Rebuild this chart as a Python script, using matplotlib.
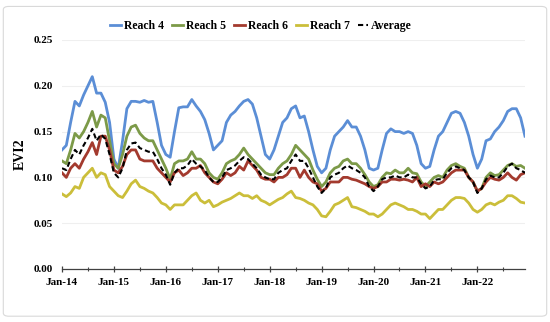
import matplotlib
matplotlib.use("Agg")
import matplotlib.pyplot as plt
from matplotlib.patches import FancyBboxPatch
import numpy as np

years = ["14", "15", "16", "17", "18", "19", "20", "21", "22"]
tick_labels = ["Jan-" + y for y in years]

reach4 = [
    0.130, 0.135, 0.160, 0.183, 0.178, 0.190, 0.200, 0.210, 0.192, 0.192, 0.182, 0.160,
    0.120, 0.110, 0.140, 0.175, 0.183, 0.183, 0.182, 0.184, 0.182, 0.183, 0.160, 0.135,
    0.125, 0.122, 0.150, 0.176, 0.177, 0.177, 0.185, 0.178, 0.172, 0.163, 0.148, 0.130,
    0.135, 0.140, 0.160, 0.168, 0.172, 0.178, 0.183, 0.185, 0.180, 0.165, 0.145, 0.125,
    0.120, 0.130, 0.145, 0.160, 0.165, 0.175, 0.178, 0.165, 0.167, 0.150, 0.130, 0.112,
    0.105, 0.110, 0.130, 0.145, 0.150, 0.155, 0.162, 0.155, 0.155, 0.145, 0.130, 0.110,
    0.108, 0.110, 0.130, 0.148, 0.153, 0.150, 0.150, 0.148, 0.150, 0.148, 0.135, 0.115,
    0.110, 0.112, 0.130, 0.145, 0.150, 0.160, 0.170, 0.172, 0.170, 0.160, 0.145, 0.125,
    0.110, 0.120, 0.140, 0.142, 0.150, 0.155, 0.162, 0.172, 0.175, 0.175, 0.165, 0.145,
]
reach5 = [
    0.118, 0.115, 0.130, 0.148, 0.143, 0.150, 0.160, 0.172, 0.155, 0.168, 0.165, 0.140,
    0.115, 0.110, 0.125, 0.145, 0.155, 0.157, 0.148, 0.143, 0.140, 0.140, 0.130, 0.120,
    0.110, 0.098, 0.115, 0.118, 0.118, 0.120, 0.128, 0.120, 0.120, 0.115, 0.105, 0.100,
    0.098, 0.105, 0.115, 0.118, 0.120, 0.125, 0.132, 0.125, 0.120, 0.115, 0.110, 0.105,
    0.103, 0.103, 0.110, 0.115, 0.118, 0.125, 0.135, 0.130, 0.125, 0.120, 0.108, 0.098,
    0.090, 0.095, 0.105, 0.110, 0.112, 0.118, 0.120, 0.115, 0.115, 0.110, 0.103, 0.095,
    0.090, 0.092, 0.100, 0.105, 0.104, 0.108, 0.105, 0.105, 0.110, 0.105, 0.104, 0.095,
    0.090, 0.095, 0.100, 0.102, 0.100, 0.108, 0.113, 0.115, 0.112, 0.110, 0.100, 0.095,
    0.085, 0.088, 0.100, 0.105, 0.102, 0.103, 0.108, 0.113, 0.115, 0.112, 0.113, 0.110,
]
reach6 = [
    0.105, 0.100, 0.110, 0.115, 0.110, 0.120, 0.128, 0.138, 0.125, 0.145, 0.145, 0.130,
    0.108, 0.105, 0.112, 0.125, 0.130, 0.130, 0.120, 0.118, 0.118, 0.118, 0.110, 0.105,
    0.100, 0.095, 0.105, 0.108, 0.102, 0.105, 0.110, 0.110, 0.113, 0.105, 0.100, 0.095,
    0.093, 0.098, 0.105, 0.102, 0.105, 0.112, 0.108, 0.118, 0.113, 0.108, 0.100, 0.098,
    0.098, 0.095, 0.100, 0.100, 0.103, 0.110, 0.110, 0.100, 0.108, 0.100, 0.095, 0.093,
    0.085, 0.088, 0.095, 0.095, 0.095, 0.100, 0.100, 0.098, 0.097, 0.095, 0.093, 0.090,
    0.088, 0.090, 0.095, 0.095, 0.098, 0.098, 0.097, 0.098, 0.097, 0.095, 0.100, 0.090,
    0.093, 0.090, 0.095, 0.093, 0.095, 0.100, 0.105, 0.108, 0.108, 0.108, 0.100, 0.095,
    0.085, 0.088, 0.095, 0.100, 0.098, 0.097, 0.100, 0.105, 0.100, 0.097, 0.103, 0.105,
]
reach7 = [
    0.082, 0.079, 0.083, 0.090, 0.088, 0.100, 0.105, 0.110, 0.100, 0.105, 0.103, 0.090,
    0.085, 0.080, 0.078, 0.085, 0.093, 0.097, 0.090, 0.088, 0.085, 0.083, 0.078, 0.072,
    0.070, 0.065, 0.070, 0.070, 0.070, 0.075, 0.080, 0.083, 0.075, 0.072, 0.075, 0.068,
    0.070, 0.073, 0.075, 0.077, 0.080, 0.083, 0.080, 0.080, 0.077, 0.080, 0.075, 0.073,
    0.070, 0.073, 0.076, 0.078, 0.082, 0.085, 0.078, 0.077, 0.075, 0.072, 0.070, 0.065,
    0.058, 0.057, 0.063, 0.070, 0.072, 0.075, 0.078, 0.068, 0.067, 0.065, 0.063, 0.060,
    0.060, 0.057, 0.060, 0.065, 0.070, 0.072, 0.070, 0.068, 0.065, 0.065, 0.063, 0.060,
    0.060, 0.055, 0.060, 0.065, 0.065, 0.070, 0.075, 0.078, 0.078, 0.077, 0.072, 0.065,
    0.062, 0.065, 0.070, 0.072, 0.070, 0.073, 0.075, 0.080, 0.080, 0.077, 0.073, 0.072,
]
average = [
    0.110, 0.108, 0.120, 0.130, 0.125, 0.135, 0.143, 0.153, 0.140, 0.147, 0.142, 0.125,
    0.105, 0.100, 0.110, 0.130, 0.137, 0.138, 0.132, 0.130, 0.128, 0.128, 0.120, 0.110,
    0.103, 0.092, 0.105, 0.110, 0.110, 0.113, 0.120, 0.115, 0.112, 0.108, 0.100, 0.095,
    0.095, 0.100, 0.108, 0.110, 0.113, 0.118, 0.122, 0.120, 0.115, 0.110, 0.103, 0.100,
    0.098, 0.098, 0.105, 0.108, 0.110, 0.118, 0.125, 0.118, 0.118, 0.110, 0.100, 0.090,
    0.083, 0.088, 0.100, 0.103, 0.105, 0.110, 0.113, 0.110, 0.108, 0.105, 0.100, 0.090,
    0.085, 0.090, 0.098, 0.100, 0.100, 0.102, 0.100, 0.100, 0.103, 0.100, 0.100, 0.093,
    0.088, 0.090, 0.097, 0.098, 0.098, 0.105, 0.110, 0.112, 0.110, 0.108, 0.100, 0.095,
    0.083, 0.088, 0.098, 0.102, 0.100, 0.100, 0.105, 0.112, 0.115, 0.110, 0.108, 0.105,
]

series_names = ["Reach 4", "Reach 5", "Reach 6", "Reach 7"]
colors = ["#5B8ED6", "#7C9A48", "#A33A2E", "#CBBE3A"]

plt.rcParams["font.family"] = ["Liberation Serif", "DejaVu Serif"]
plt.rcParams["font.weight"] = "bold"

fig = plt.figure(figsize=(5.5, 3.22), dpi=100)
border = FancyBboxPatch((0.006, 0.018), 0.988, 0.962, boxstyle="round,pad=0,rounding_size=0.01",
                        transform=fig.transFigure, facecolor="none", edgecolor="#D9D9D9",
                        linewidth=0.8, zorder=0)
fig.patches.append(border)

ax = fig.add_axes([0.1127, 0.1646, 0.8418, 0.7112])
ax.set_facecolor("none")
x = np.arange(len(reach4))
for name, data, c in zip(series_names, [reach4, reach5, reach6, reach7], colors):
    ax.plot(x, data, color=c, lw=2.0, label=name, solid_joinstyle="round")
ax.plot(x, average, color="black", lw=1.5, ls=(0, (2.5, 1.5)), label="Average")

ax.set_xlim(0, len(reach4) - 1)
ax.set_ylim(0, 0.25)
ax.set_yticks(np.arange(0, 0.2501, 0.05))
ax.set_yticklabels([f"{v:.2f}" for v in np.arange(0, 0.2501, 0.05)])
ax.set_xticks(np.arange(0, len(reach4), 12))
ax.set_xticklabels(tick_labels)
ax.set_xticks(np.arange(6, len(reach4), 12), minor=True)
ax.grid(axis="y", color="#EFEFEF", lw=0.8)
ax.set_axisbelow(True)
for s in ["left", "right", "top"]:
    ax.spines[s].set_visible(False)
ax.spines["bottom"].set_color("#404040")
ax.spines["bottom"].set_linewidth(0.9)
ax.tick_params(axis="x", which="major", direction="inout", length=5, width=0.9,
               color="#404040", labelsize=8, pad=4)
ax.tick_params(axis="x", which="minor", direction="inout", length=3, width=0.8, color="#404040")
ax.tick_params(axis="y", length=0, labelsize=8, pad=6.5)
for lab in ax.get_xticklabels() + ax.get_yticklabels():
    lab.set_fontweight("bold")
ax.set_ylabel("EVI2", fontsize=10, fontweight="bold", labelpad=5)

leg = fig.legend(loc="center", bbox_to_anchor=(0.475, 0.918), ncol=5, frameon=False,
                 handlelength=0.9, handletextpad=0.25, columnspacing=0.7,
                 prop={"weight": "bold", "size": 8.5})
fig.savefig("out.png", dpi=100)
